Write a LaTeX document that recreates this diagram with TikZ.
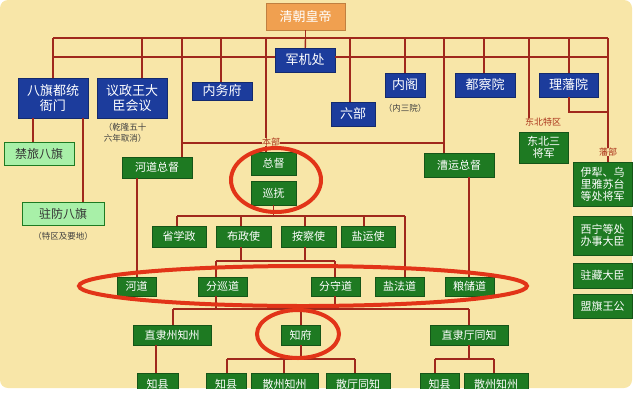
\documentclass[tikz,border=0pt]{standalone}
\usepackage{fontspec}
\newfontfamily\cjk{Noto Sans CJK SC}
\begin{document}
\begin{tikzpicture}[x=1pt,y=-1pt,
  ln/.style={draw=lineR,line width=1.4pt},
  base/.style={inner sep=0pt,font=\cjk\fontsize{11}{12}\selectfont,align=center},
  bluebox/.style={base,fill=boxB,draw=boxB!70!black,text=white,font=\cjk\fontsize{13}{15}\selectfont},
  greenbox/.style={base,fill=boxG,draw=boxG!70!black,text=white},
  lgbox/.style={base,fill=boxLG,draw=boxG,text=black!80,font=\cjk\fontsize{12}{14}\selectfont},
  orbox/.style={base,fill=boxO,draw=boxO!80!black,text=white,font=\cjk\fontsize{13}{15}\selectfont},
  note/.style={base,text=black!75,font=\cjk\fontsize{8.5}{10.5}\selectfont},
  rnote/.style={base,text=lineR!90!orange,font=\cjk\fontsize{9}{10}\selectfont},
  ring/.style={draw=ringR,line width=4pt}]
\definecolor{bg}{HTML}{F8E6A8}
\definecolor{lineR}{HTML}{A0281C}
\definecolor{boxB}{HTML}{1C3C9C}
\definecolor{boxG}{HTML}{1E7A22}
\definecolor{boxLG}{HTML}{A8F0A8}
\definecolor{boxO}{HTML}{F0A050}
\definecolor{ringR}{HTML}{E23418}
\useasboundingbox (0,0) rectangle (636,402);
\fill[bg,rounded corners=8pt] (0,0) rectangle (632,388);
\newcommand{\bx}[7]{\node[#6,minimum width=#4-#2,minimum height=#5-#3] (#1) at ({(#2+#4)/2},{(#3+#5)/2}) {#7};}
% boxes
\bx{emp}{266}{3}{345}{30}{orbox}{清朝皇帝}
\bx{jjc}{275}{48}{335}{72}{bluebox}{军机处}
\bx{bq}{18}{78}{88}{118}{bluebox}{八旗都统\\衙门}
\bx{yz}{97}{78}{167}{118}{bluebox}{议政王大\\臣会议}
\bx{nwf}{192}{82}{252}{100}{bluebox}{内务府}
\bx{lb}{331}{102}{375}{126}{bluebox}{六部}
\bx{ng}{385}{73}{425}{97}{bluebox}{内阁}
\bx{dcy}{455}{73}{515}{97}{bluebox}{都察院}
\bx{lfy}{539}{73}{598}{97}{bluebox}{理藩院}
\node[note] at (405,108) {（内三院）};
\node[note] at (125,133) {（乾隆五十\\六年取消）};
\node[rnote] (dbtq) at (543,122) {东北特区};
\bx{db}{519}{132}{568}{163}{greenbox}{东北三\\将军}
\node[rnote] (fb) at (608,152) {藩部};
\bx{yl}{573}{162}{632}{206}{greenbox}{伊犁、乌\\里雅苏台\\等处将军}
\bx{xn}{573}{216}{632}{255}{greenbox}{西宁等处\\办事大臣}
\bx{zz}{573}{263}{632}{288}{greenbox}{驻藏大臣}
\bx{mq}{573}{294}{632}{318}{greenbox}{盟旗王公}
\bx{jl}{4}{142}{74}{165}{lgbox}{禁旅八旗}
\bx{zf}{22}{202}{104}{225}{lgbox}{驻防八旗}
\node[note] at (63,236) {（特区及要地）};
\node[rnote] (bb) at (271,142) {本部};
\bx{hdzd}{122}{157}{192}{178}{greenbox}{河道总督}
\bx{zd}{251}{152}{296}{175}{greenbox}{总督}
\bx{xf}{251}{181}{296}{205}{greenbox}{巡抚}
\bx{cyzd}{424}{153}{494}{177}{greenbox}{漕运总督}
\bx{sxz}{152}{226}{206}{247}{greenbox}{省学政}
\bx{bzs}{216}{226}{271}{247}{greenbox}{布政使}
\bx{acs}{281}{226}{336}{247}{greenbox}{按察使}
\bx{yys}{341}{226}{395}{247}{greenbox}{盐运使}
\bx{hd}{117}{277}{156}{296}{greenbox}{河道}
\bx{fxd}{198}{277}{247}{296}{greenbox}{分巡道}
\bx{fsd}{311}{277}{360}{296}{greenbox}{分守道}
\bx{yfd}{375}{277}{424}{296}{greenbox}{盐法道}
\bx{lcd}{445}{277}{494}{296}{greenbox}{粮储道}
\bx{zlz}{133}{325}{211}{345}{greenbox}{直隶州知州}
\bx{zhf}{281}{325}{320}{345}{greenbox}{知府}
\bx{zlt}{430}{325}{508}{345}{greenbox}{直隶厅同知}
\begin{scope}
\clip (0,0) rectangle (636,388);
\bx{zx1}{137}{373}{178}{395}{greenbox}{知县}
\bx{zx2}{206}{373}{246}{395}{greenbox}{知县}
\bx{szz1}{251}{373}{318}{395}{greenbox}{散州知州}
\bx{stz}{326}{373}{390}{395}{greenbox}{散厅同知}
\bx{zx3}{420}{373}{459}{395}{greenbox}{知县}
\bx{szz2}{464}{373}{528}{395}{greenbox}{散州知州}
\end{scope}
% connectors
\coordinate (L1) at (53,38); \coordinate (R1) at (608,38);
\coordinate (L2) at (53,57); \coordinate (R2) at (608,57);
\draw[ln] (emp) -- (emp|-L1);
\draw[ln] (L1) -- (R1);
\draw[ln] (L2) -- (jjc.west|-L2) (jjc.east|-L2) -- (R2);
\draw[ln] (emp|-L1) -- (jjc);
\draw[ln] (53,38) -- (bq.north-|53,0);
\draw[ln] (142,38) -- (yz.north-|142,0);
\draw[ln] (221,38) -- (nwf.north-|221,0);
\draw[ln] (350,38) -- (lb.north-|350,0);
\draw[ln] (405,38) -- (ng.north-|405,0);
\draw[ln] (484,38) -- (dcy.north-|484,0);
\draw[ln] (569,38) -- (lfy.north-|569,0);
\draw[ln] (529,38) -- (dbtq.north-|529,0);
\draw[ln] (lfy.south-|569,0) -- (569,112) -- (608,112);
\draw[ln] (608,38) -- (fb.north-|608,0);
\draw[ln] (fb) -- (yl.north-|608,0);
\draw[ln] (182,38) -- (hdzd.north-|182,0);
\draw[ln] (444,38) -- (cyzd.north-|444,0);
\draw[ln] (182,143) -- (bb.west|-182,143) (bb.east|-444,143) -- (444,143);
\draw[ln] (266,38) -- (bb.north-|266,0) (bb.south-|266,0) -- (zd.north-|266,0);
\draw[ln] (33,118) -- (jl.north-|33,0);
\draw[ln] (83,118) -- (zf.north-|83,0);
\draw[ln] (xf) -- (xf|-0,216);
\draw[ln] (177,216) -- (405,216);
\draw[ln] (177,216) -- (sxz.north-|177,0);
\draw[ln] (241,216) -- (bzs.north-|241,0);
\draw[ln] (305,216) -- (acs.north-|305,0);
\draw[ln] (364,216) -- (yys.north-|364,0);
\draw[ln] (405,216) -- (yfd.north-|405,0);
\draw[ln] (bzs.south-|241,0) -- (241,261);
\draw[ln] (acs.south-|305,0) -- (305,261);
\draw[ln] (216,261) -- (335,261);
\draw[ln] (216,261) -- (fxd.north-|216,0);
\draw[ln] (335,261) -- (fsd.north-|335,0);
\draw[ln] (hdzd.south-|137,0) -- (hd.north-|137,0);
\draw[ln] (cyzd.south-|469,0) -- (lcd.north-|469,0);
\draw[ln] (fxd.south-|216,0) -- (216,309);
\draw[ln] (fsd.south-|335,0) -- (335,309);
\draw[ln] (173,309) -- (469,309);
\draw[ln] (173,309) -- (zlz.north-|173,0);
\draw[ln] (301,309) -- (zhf.north-|301,0);
\draw[ln] (469,309) -- (zlt.north-|469,0);
\draw[ln] (zhf.south-|301,0) -- (301,359);
\draw[ln] (227,359) -- (355,359);
\draw[ln] (227,359) -- (zx2.north-|227,0);
\draw[ln] (284,359) -- (szz1.north-|284,0);
\draw[ln] (355,359) -- (stz.north-|355,0);
\draw[ln] (zlz.south-|156,0) -- (zx1.north-|156,0);
\draw[ln] (zlt.south-|469,0) -- (469,359);
\draw[ln] (435,359) -- (494,359);
\draw[ln] (435,359) -- (zx3.north-|435,0);
\draw[ln] (494,359) -- (szz2.north-|494,0);
% rings
\draw[ring] (276,180) ellipse [x radius=45,y radius=32];
\draw[ring] (303,286) ellipse [x radius=224,y radius=20];
\draw[ring] (298,334) ellipse [x radius=41,y radius=24];
\end{tikzpicture}
\end{document}
